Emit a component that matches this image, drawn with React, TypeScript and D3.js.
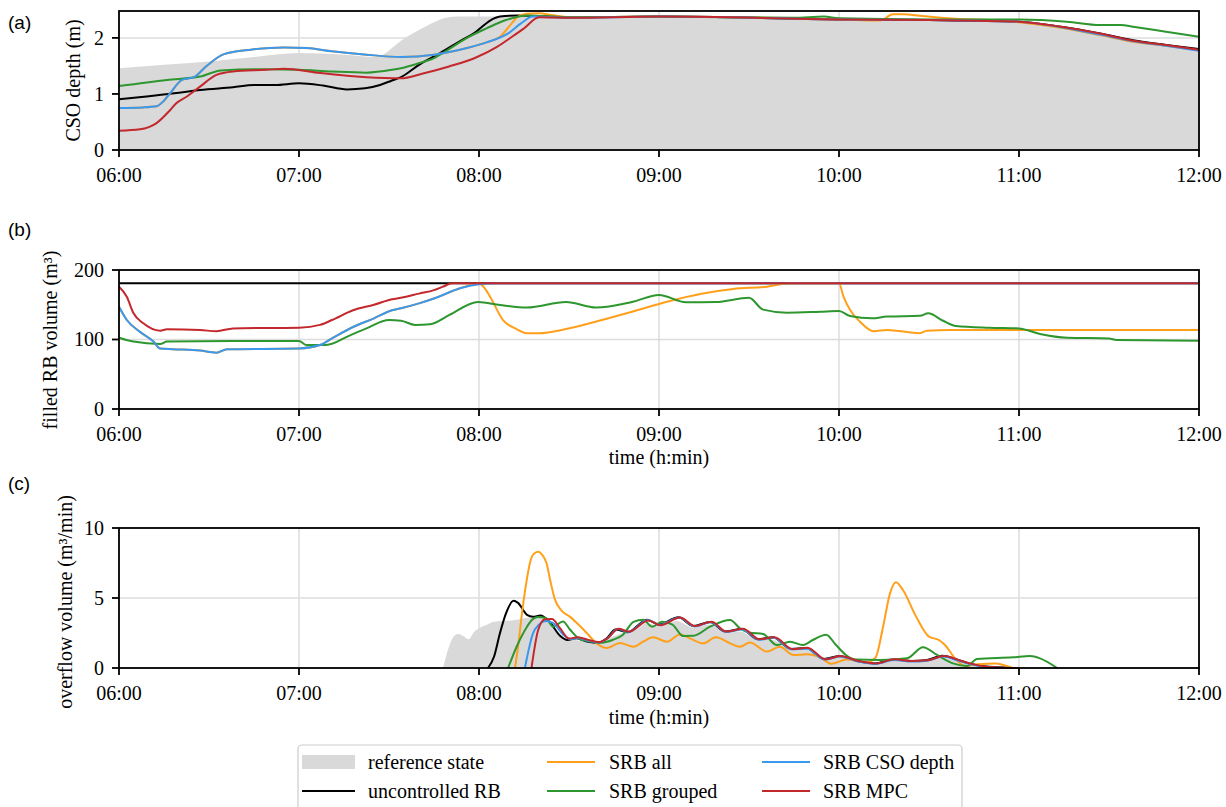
import React from 'react';
import * as d3 from 'd3';

type P = [number, number];

// minutes after 06:00
const hourTicks = [0, 60, 120, 180, 240, 300, 360];
const hourLabels = ['06:00', '07:00', '08:00', '09:00', '10:00', '11:00', '12:00'];
const depthTicks = [0, 1, 2];
const volumeTicks = [0, 100, 200];
const overflowTicks = [0, 5, 10];

// ---------- (a) CSO depth (m) ----------
const depthRef: P[] = [[0,1.46],[15,1.52],[30,1.58],[45,1.66],[60,1.73],[75,1.7],[85,1.66],[88,1.7],[91,1.82],[94,1.95],[97,2.05],[100,2.14],[105,2.28],[109,2.36],[113,2.38],[130,2.38],[150,2.37],[180,2.38],[240,2.33],[270,2.32],[300,2.3],[310,2.24],[320,2.14],[330,2.02],[340,1.93],[350,1.86],[360,1.76]];
const depthUncontrolled: P[] = [[0,0.905],[10,0.96],[20,1.02],[27,1.07],[38,1.12],[45,1.16],[52,1.16],[60,1.19],[68,1.15],[76,1.08],[82,1.1],[87,1.16],[91,1.24],[94,1.3],[100,1.52],[107,1.73],[113,1.92],[119,2.11],[123.7,2.31],[127,2.38],[133,2.4],[150,2.37],[180,2.38],[240,2.33],[270,2.32],[300,2.29],[314,2.2],[327,2.08],[338,1.96],[349,1.875],[360,1.8]];
const depthSrbAll: P[] = [[0,0.75],[8,0.76],[12.5,0.78],[15,0.88],[17,1.01],[21,1.25],[25,1.3],[29,1.49],[35,1.71],[44,1.79],[55,1.83],[62.5,1.82],[71,1.76],[82.5,1.7],[94,1.66],[105,1.7],[116,1.82],[122.5,1.92],[127,2.02],[130,2.2],[133,2.38],[136,2.43],[140,2.44],[144,2.41],[150,2.37],[180,2.38],[240,2.33],[253.7,2.31],[258,2.42],[262,2.42],[266,2.4],[274,2.36],[300,2.28],[314,2.18],[327,2.05],[338,1.93],[349,1.86],[360,1.78]];
const depthSrbGrouped: P[] = [[0,1.14],[16,1.25],[27,1.31],[34,1.42],[49,1.44],[60,1.43],[71,1.4],[82.5,1.38],[91,1.43],[94,1.46],[100,1.55],[105,1.64],[110,1.8],[116,2.0],[122.5,2.17],[129,2.32],[136,2.4],[150,2.37],[180,2.38],[225,2.36],[235,2.38],[240,2.35],[270,2.33],[300,2.33],[316,2.29],[327,2.23],[334,2.23],[338,2.2],[349,2.11],[360,2.02]];
const depthSrbCso: P[] = [[0,0.75],[8,0.76],[12.5,0.78],[15,0.88],[17,1.01],[21,1.25],[25,1.3],[29,1.49],[35,1.71],[44,1.79],[55,1.83],[62.5,1.82],[71,1.76],[82.5,1.7],[94,1.66],[105,1.7],[116,1.82],[122.5,1.92],[130,2.09],[134,2.26],[138,2.38],[150,2.36],[180,2.38],[240,2.33],[270,2.32],[300,2.29],[314,2.19],[327,2.06],[338,1.94],[349,1.86],[360,1.77]];
const depthSrbMpc: P[] = [[0,0.345],[7,0.37],[12.5,0.48],[17,0.71],[19,0.83],[22.5,0.95],[27,1.13],[32.5,1.34],[38,1.4],[49,1.43],[55,1.45],[66,1.38],[71,1.35],[82.5,1.3],[94,1.28],[101,1.36],[110,1.49],[119,1.65],[126,1.84],[131,2.02],[135,2.17],[140,2.37],[150,2.36],[180,2.38],[240,2.33],[270,2.32],[300,2.29],[314,2.2],[327,2.08],[338,1.95],[349,1.875],[360,1.79]];

// ---------- (b) filled RB volume (m3) ----------
const volUncontrolled: P[] = [[0,181],[360,181]];
const volSrbAll: P[] = [[0,147],[2.6,128],[7,111],[11.5,97],[13.7,87],[18,86],[27,84],[32.5,81],[36,86],[60,87],[67,92],[71,101.7],[78,118],[85,130.5],[91,142],[94,145],[100,152],[105,159],[113.7,173.7],[120,180.5],[121.5,176],[123.7,161.6],[128,128],[132.5,115],[136,109],[140,109],[149,115],[160,127],[171,140],[182.7,154.4],[193.7,165.5],[204.7,172.7],[216,176],[223.7,181],[240,181],[241.5,161.6],[243.7,142.4],[247,125.6],[251.5,112],[256,113.7],[267,109],[269.3,112.7],[277,113.7],[360,113.7]];
const volSrbGrouped: P[] = [[0,102.6],[4.8,97],[13.7,93.5],[16,97],[38,97.8],[60,98],[62.5,92],[69,92],[77,106],[82.5,116],[90,128],[94,127],[98.7,121],[103.7,122],[110,135],[119.7,154],[127,149.6],[136,146],[149,154],[159,146],[171,154],[180,164],[189,153.5],[199,154],[210,160],[214.7,143],[222.7,138.6],[233.7,140],[240,141],[243.7,133.8],[251,130.5],[256,133],[267,134],[269.7,137.6],[274.7,127],[279,119.4],[290,117],[300,116],[307,108],[316,102.6],[330,101.6],[332.5,99.3],[360,98.3]];
const volSrbCso: P[] = [[0,147],[2.6,128],[7,111],[11.5,97],[13.7,87],[18,86],[27,84],[32.5,81],[36,86],[60,87],[67,92],[71,101.7],[78,118],[85,130.5],[91,142],[94,145],[100,152],[105,159],[113.7,173.7],[120,179.4],[126,181],[360,181]];
const volSrbMpc: P[] = [[0,176],[2.6,161.6],[4.8,138],[8,123.6],[13.7,112.7],[16,114.6],[27,113.7],[32.5,111.8],[38,116],[60,117],[67,121],[71,128],[78,142],[85,150],[91,158],[94,160],[100,166],[105,171],[108,176],[111,181],[360,181]];

// ---------- (c) overflow volume (m3/min) ----------
const ovRef: P[] = [[108,0],[109.5,1.2],[111.5,2.24],[113,2.43],[115,2.25],[116.5,2.05],[118.5,2.6],[120.5,2.9],[122.5,3.07],[125,3.3],[128,3.35],[131,3.4],[134,3.5],[137,3.6],[140,3.6],[143,3.3],[146,2.6],[149,2.1],[152,2.0],[156,1.85],[160,1.75],[164,2.2],[168,2.5],[172,2.7],[176,3.2],[180,3.0],[186,3.35],[191,2.9],[197,3.1],[202,2.5],[207,2.6],[213,2.0],[218,2.0],[224,1.3],[229,1.3],[235,0.6],[240,0.75],[246,0.45],[252,0.3],[258,0.5],[264,0.45],[269,0.5],[274,0.75],[279,0.5],[284,0.25],[290,0.05],[296,0]];
const ovUncontrolled: P[] = [[123,0],[125,0.8],[127,2.5],[129,3.9],[131.5,4.8],[133,4.65],[136,3.8],[138,3.66],[140.5,3.75],[143.5,3.3],[147,2.3],[149.5,2.0],[152.5,2.12],[156,1.9],[159.5,1.8],[162.5,2.1],[165.5,2.75],[169.5,2.55],[176,3.45],[180,3.1],[186.5,3.62],[191.5,3.0],[197,3.28],[202,2.6],[207.5,2.78],[213,2.05],[218,2.2],[224,1.35],[229,1.42],[235,0.65],[240,0.86],[246,0.5],[252,0.33],[258,0.6],[264,0.5],[269,0.55],[274.5,0.88],[279,0.62],[283,0.35],[289,0.1],[296,0.02],[300,0]];
const ovSrbAll: P[] = [[132,0],[133,1.5],[134.5,4.2],[136,6.4],[137.2,7.7],[138.5,8.2],[139.8,8.3],[141,8.1],[142.5,7.5],[143.7,6.3],[145.3,4.9],[147.5,4.1],[150.3,3.67],[152.7,3.19],[156,2.48],[159,1.79],[162.7,1.43],[167,1.79],[171.5,1.52],[174.7,1.88],[178,2.19],[182.7,1.88],[187,2.4],[190.3,2.12],[194.7,1.76],[199,2.19],[203.7,1.76],[207,1.52],[210.3,1.83],[216,1.17],[220.3,1.52],[224.7,0.93],[229.3,0.98],[233.7,0.76],[237.5,0.3],[242.5,0.6],[249.3,0.4],[252.2,0.76],[254.7,2.95],[257,5.33],[259,6.12],[261.3,5.57],[265.7,3.67],[270,2.24],[273.3,2.0],[275.3,1.64],[278.7,0.69],[282,0.14],[286.3,0.26],[292,0.33],[298,0]];
const ovSrbGrouped: P[] = [[129.7,0],[132.5,1.5],[136,2.95],[137.7,3.45],[139.5,3.65],[142.3,3.57],[144.7,2.95],[148,3.33],[150.3,2.75],[153.7,2.05],[157,1.9],[160.3,1.8],[164.7,2.02],[168,2.38],[171.5,3.3],[174.7,3.45],[177.7,2.95],[181,3.3],[184.5,3.1],[188,2.29],[191.5,2.3],[197,2.95],[203.7,3.43],[207,2.83],[210.3,2.52],[214.7,2.43],[219.3,1.64],[223.7,1.88],[228,1.64],[231.3,2.0],[235.7,2.38],[239,1.64],[242.3,0.93],[245.7,0.6],[253.7,0.57],[262.7,0.69],[268,1.48],[272.7,0.93],[278,0.33],[282.7,0.14],[286,0.64],[298,0.76],[303.7,0.86],[307,0.69],[312.7,0]];
const ovSrbCso: P[] = [[135.3,0],[138,2.48],[140,3.1],[142.3,3.35],[144.7,3.2],[148,2.4],[150.5,2.05],[153,2.15],[156.3,1.95],[159.8,1.82],[162.8,2.12],[166.2,2.78],[169.8,2.58],[176.3,3.42],[180.3,3.08],[186.8,3.6],[191.8,2.98],[197.3,3.26],[202.3,2.58],[207.8,2.75],[213.3,2.02],[218.3,2.16],[224.3,1.32],[229.3,1.38],[235.3,0.6],[240.3,0.82],[246.3,0.47],[252.3,0.3],[258.3,0.58],[264.3,0.46],[269.3,0.52],[274.8,0.82],[279.3,0.55],[283.3,0.3],[289.5,0.06],[298,0]];
const ovSrbMpc: P[] = [[137.5,0],[139.7,2.7],[142,3.48],[144.3,3.5],[147,2.85],[150,2.1],[153,2.2],[156.5,2.0],[160,1.85],[163,2.15],[166.5,2.8],[170,2.6],[176.5,3.4],[180.5,3.05],[187,3.6],[192,3.0],[197.5,3.3],[202.5,2.6],[208,2.8],[213.5,2.05],[218.5,2.2],[224.5,1.35],[229.5,1.45],[235.5,0.62],[240.5,0.85],[246.5,0.5],[252.5,0.33],[258.5,0.62],[264.5,0.5],[269.5,0.55],[275,0.85],[279.5,0.6],[283.5,0.33],[290,0.08],[300,0]];

const seriesNames = ['reference state', 'uncontrolled RB', 'SRB all', 'SRB grouped', 'SRB CSO depth', 'SRB MPC'];
const seriesColors = ['#d9d9d9', '#000000', '#ff9f1a', '#2e962e', '#3a98ee', '#c3282d'];

const SERIF = '"Liberation Serif", "Times New Roman", serif';
const SANS = '"Liberation Sans", Arial, sans-serif';
const X0 = 119, X1 = 1199;

interface PanelProps {
  top: number; bottom: number; yMax: number; yTicks: number[];
  refArea: P[]; lines: P[][];
  ylabel: string; ylabelX: number; ylabelY: number;
  letter: string; letterY: number; xlabel?: string; xlabelY?: number;
}

function Panel(p: PanelProps) {
  const x = d3.scaleLinear().domain([0, 360]).range([X0, X1]);
  const y = d3.scaleLinear().domain([0, p.yMax]).range([p.bottom, p.top]);
  const line = d3.line<P>().x(d => x(d[0])).y(d => y(d[1])).curve(d3.curveMonotoneX);
  const area = d3.area<P>().x(d => x(d[0])).y0(y(0)).y1(d => y(d[1])).curve(d3.curveMonotoneX);
  const tickBaseline = p.bottom + 32;
  return (
    <g>
      {hourTicks.map(t => (
        <line key={'gx' + t} x1={x(t)} x2={x(t)} y1={p.top} y2={p.bottom} stroke="#dcdcdc" strokeWidth={1.5} />
      ))}
      {p.yTicks.map(v => (
        <line key={'gy' + v} x1={X0} x2={X1} y1={y(v)} y2={y(v)} stroke="#dcdcdc" strokeWidth={1.5} />
      ))}
      <path d={area(p.refArea) || ''} fill={seriesColors[0]} stroke="none" />
      {p.lines.map((s, i) => (
        <path key={'l' + i} d={line(s) || ''} fill="none" stroke={seriesColors[i + 1]} strokeWidth={2} strokeLinejoin="round" />
      ))}
      <rect x={X0} y={p.top} width={X1 - X0} height={p.bottom - p.top} fill="none" stroke="#000" strokeWidth={1.8} />
      {hourTicks.map((t, i) => (
        <g key={'tx' + t}>
          <line x1={x(t)} x2={x(t)} y1={p.bottom} y2={p.bottom + 7} stroke="#000" strokeWidth={1.8} />
          <text x={x(t)} y={tickBaseline} textAnchor="middle" fontFamily={SERIF} fontSize={20}>{hourLabels[i]}</text>
        </g>
      ))}
      {p.yTicks.map(v => (
        <g key={'ty' + v}>
          <line x1={X0 - 7} x2={X0} y1={y(v)} y2={y(v)} stroke="#000" strokeWidth={1.8} />
          <text x={104} y={y(v)} dy="0.34em" textAnchor="end" fontFamily={SERIF} fontSize={20}>{v}</text>
        </g>
      ))}
      <text transform={`translate(${p.ylabelX},${p.ylabelY}) rotate(-90)`} textAnchor="middle" fontFamily={SERIF} fontSize={20}>{p.ylabel}</text>
      <text x={8} y={p.letterY} fontFamily={SANS} fontSize={19}>{p.letter}</text>
      {p.xlabel && (
        <text x={(X0 + X1) / 2} y={p.xlabelY} textAnchor="middle" fontFamily={SERIF} fontSize={20}>{p.xlabel}</text>
      )}
    </g>
  );
}

function Legend() {
  const rows = [762, 791];
  const cols = [{ h0: 302, h1: 355, tx: 368 }, { h0: 547, h1: 595, tx: 609 }, { h0: 762, h1: 810, tx: 823 }];
  return (
    <g>
      <rect x={298} y={745} width={664} height={70} rx={4} fill="#fff" stroke="#cccccc" strokeWidth={1.2} />
      {seriesNames.map((name, i) => {
        const c = cols[Math.floor(i / 2)];
        const ry = rows[i % 2];
        return (
          <g key={name}>
            {i === 0 ? (
              <rect x={c.h0} y={ry - 7} width={c.h1 - c.h0} height={14} fill={seriesColors[0]} />
            ) : (
              <line x1={c.h0} x2={c.h1} y1={ry} y2={ry} stroke={seriesColors[i]} strokeWidth={2} />
            )}
            <text x={c.tx} y={ry + 7} fontFamily={SERIF} fontSize={20}>{name}</text>
          </g>
        );
      })}
    </g>
  );
}

export default function App() {
  return (
    <svg width={1226} height={807} style={{ position: 'absolute', left: 0, top: 0, background: '#fff' }}>
      <rect x={0} y={0} width={1226} height={807} fill="#fff" />
      <Panel top={11} bottom={150} yMax={2.48} yTicks={depthTicks} refArea={depthRef}
        lines={[depthUncontrolled, depthSrbAll, depthSrbGrouped, depthSrbCso, depthSrbMpc]}
        ylabel="CSO depth (m)" ylabelX={80} ylabelY={80.5} letter="(a)" letterY={29} />
      <Panel top={270} bottom={409} yMax={200} yTicks={volumeTicks} refArea={[]}
        lines={[volUncontrolled, volSrbAll, volSrbGrouped, volSrbCso, volSrbMpc]}
        ylabel="filled RB volume (m³)" ylabelX={57} ylabelY={340} letter="(b)" letterY={236}
        xlabel="time (h:min)" xlabelY={464} />
      <Panel top={528} bottom={668} yMax={10} yTicks={overflowTicks} refArea={ovRef}
        lines={[ovUncontrolled, ovSrbAll, ovSrbGrouped, ovSrbCso, ovSrbMpc]}
        ylabel="overflow volume (m³/min)" ylabelX={72} ylabelY={602} letter="(c)" letterY={490}
        xlabel="time (h:min)" xlabelY={724} />
      <Legend />
    </svg>
  );
}
